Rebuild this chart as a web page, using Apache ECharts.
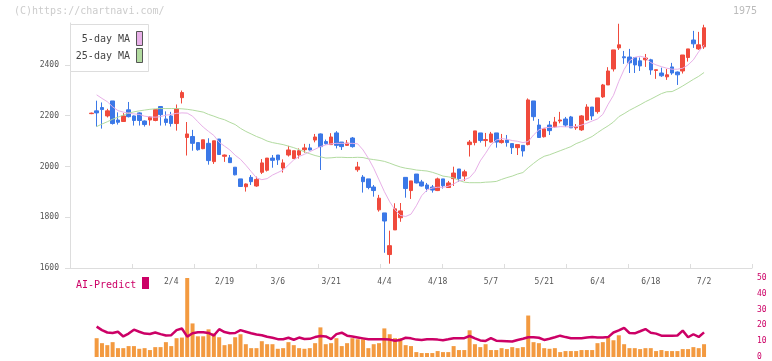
<!DOCTYPE html>
<html><head><meta charset="utf-8">
<script src="https://cdn.jsdelivr.net/npm/echarts@6/dist/echarts.min.js"></script>
<style>html,body{margin:0;padding:0;background:#fff}#c{width:772px;height:361px}</style>
</head><body><div id="c"></div>
<script>
const dates = ['1/14','1/15','1/16','1/17','1/20','1/21','1/22','1/23','1/24','1/27','1/28','1/29','1/30','1/31',
'2/3','2/4','2/5','2/6','2/7','2/10','2/12','2/13','2/14','2/17','2/18','2/19','2/20','2/21','2/25','2/26','2/27','2/28',
'3/3','3/4','3/5','3/6','3/7','3/10','3/11','3/12','3/13','3/14','3/17','3/18','3/19','3/21','3/24','3/25','3/26','3/27','3/28','3/31',
'4/1','4/2','4/3','4/4','4/7','4/8','4/9','4/10','4/11','4/14','4/15','4/16','4/17','4/18','4/21','4/22','4/23','4/24','4/25','4/28','4/30',
'5/1','5/2','5/7','5/8','5/9','5/12','5/13','5/14','5/15','5/16','5/19','5/20','5/21','5/22','5/23','5/26','5/27','5/28','5/29','5/30',
'6/2','6/3','6/4','6/5','6/6','6/9','6/10','6/11','6/12','6/13','6/16','6/17','6/18','6/19','6/20','6/23','6/24','6/25','6/26','6/27','6/30',
'7/1','7/2'];
const tickLabels = ['2/4','2/19','3/6','3/21','4/4','4/18','5/7','5/21','6/4','6/18','7/2'];
const priceTicks = [1600,1800,2000,2200,2400];
// [open, close, low, high]
const candles = [
[2208,2210,2206,2212],[2219,2211,2157,2259],[2232,2224,2149,2252],[2199,2219,2193,2227],[2258,2169,2165,2258],
[2183,2174,2165,2213],[2177,2199,2175,2210],[2223,2196,2193,2254],[2199,2181,2161,2201],[2211,2181,2161,2213],
[2179,2165,2157,2181],[2183,2195,2161,2197],[2181,2224,2178,2226],[2236,2204,2161,2238],[2187,2173,2161,2217],
[2199,2169,2157,2215],[2169,2227,2141,2244],[2271,2291,2248,2299],[2114,2128,2043,2175],[2118,2091,2062,2144],
[2094,2066,2062,2094],[2070,2105,2068,2105],[2091,2023,2007,2111],[2019,2101,2010,2101],[2108,2047,2045,2108],
[2040,2045,2018,2047],[2034,2015,2015,2045],[1997,1967,1965,1997],[1951,1921,1920,1951],[1920,1931,1901,1933],
[1957,1940,1927,1966],[1923,1949,1920,1960],[1977,2014,1970,2029],[1985,2033,1980,2033],[2033,2024,1995,2045],
[2045,2026,2006,2045],[1994,2014,1976,2028],[2045,2065,2039,2081],[2031,2062,2031,2062],[2045,2062,2031,2071],
[2066,2073,2054,2089],[2073,2065,2063,2089],[2104,2116,2095,2128],[2128,2078,1986,2130],[2098,2090,2086,2106],
[2086,2116,2086,2131],[2132,2083,2071,2139],[2096,2078,2065,2096],[2083,2092,2081,2104],[2112,2078,2074,2116],
[1987,1998,1979,2018],[1958,1940,1897,1966],[1951,1917,1910,1951],[1919,1905,1881,1927],[1829,1875,1822,1888],
[1817,1785,1660,1817],[1653,1688,1617,1747],[1750,1833,1750,1855],[1798,1825,1782,1856],[1957,1913,1877,1957],
[1905,1943,1872,1943],[1970,1935,1933,1970],[1939,1923,1921,1947],[1927,1913,1901,1935],[1919,1907,1897,1927],
[1905,1951,1903,1956],[1951,1924,1913,1951],[1917,1935,1915,1943],[1952,1974,1923,1999],[1990,1952,1939,1990],
[1962,1979,1943,1987],[2086,2096,2039,2104],[2094,2140,2083,2140],[2132,2102,2094,2132],[2102,2106,2078,2132],
[2096,2128,2094,2136],[2132,2096,2074,2132],[2094,2102,2090,2128],[2104,2094,2078,2124],[2090,2074,2049,2090],
[2074,2086,2045,2086],[2083,2061,2039,2083],[2086,2262,2083,2268],[2258,2196,2180,2258],[2163,2114,2114,2187],
[2117,2148,2114,2148],[2163,2141,2124,2179],[2156,2175,2152,2195],[2179,2183,2170,2215],[2187,2163,2156,2195],
[2195,2152,2152,2199],[2152,2156,2144,2167],[2144,2199,2140,2202],[2183,2234,2180,2245],[2234,2199,2183,2234],
[2216,2270,2208,2270],[2274,2321,2270,2325],[2321,2376,2321,2391],[2384,2459,2374,2459],[2467,2479,2459,2562],
[2432,2428,2404,2455],[2431,2408,2368,2463],[2429,2400,2368,2429],[2416,2396,2376,2429],[2420,2427,2392,2443],
[2420,2380,2361,2424],[2378,2381,2345,2381],[2368,2357,2353,2389],[2353,2361,2341,2384],[2392,2368,2361,2408],
[2372,2361,2321,2374],[2376,2439,2366,2439],[2429,2463,2413,2463],[2498,2483,2467,2534],[2463,2479,2459,2530],
[2471,2546,2463,2558]];
const ma5 = ['-',2282,2268,2255,2235,2220,2214,2210,2207,2205,2198,2195,2194,2196,2202,2205,2209,2211,2210,2198,
2176,2155,2138,2122,2095,2080,2065,2044,2028,2005,1980,1955,1948,1952,1966,1976,1986,2006,2026,2039,
2048,2058,2068,2078,2085,2089,2091,2091,2091,2091,2089,2065,2032,1993,1947,1901,1861,1829,1807,1803,
1812,1845,1885,1907,1915,1918,1918,1922,1931,1943,1948,1956,1980,2022,2052,2085,2104,2110,2107,2102,
2099,2094,2098,2124,2144,2152,2154,2154,2157,2156,2156,2157,2163,2170,2179,2187,2205,2245,2280,2335,
2382,2416,2430,2434,2429,2409,2400,2393,2387,2383,2383,2387,2400,2420,2452,2479];
const ma25 = ['-',2157,2167,2176,2186,2194,2202,2210,2215,2219,2222,2225,2227,2228,2228,2228,2228,2227,2225,2222,
2218,2214,2205,2198,2190,2184,2174,2165,2150,2138,2128,2118,2110,2100,2094,2090,2086,2080,2074,2066,
2058,2050,2043,2038,2033,2034,2036,2036,2035,2035,2036,2035,2030,2027,2024,2020,2013,2005,1998,1993,
1990,1986,1984,1982,1977,1970,1962,1959,1955,1945,1938,1936,1936,1936,1938,1939,1941,1949,1956,1962,
1970,1976,1995,2012,2028,2040,2046,2054,2062,2070,2078,2090,2098,2108,2118,2133,2147,2160,2175,2196,
2208,2221,2232,2243,2255,2265,2276,2287,2294,2295,2305,2317,2330,2343,2355,2370];
const volume = ['-',11.9,8.75,7.5,9.4,5.6,5.6,6.9,6.9,5.2,5.6,
4.4,6.25,6.25,9.4,6.9,11.9,12.3,50,21.25,13.1,
13.1,17.5,15,12.5,7.5,8.1,12.5,14.4,8.1,5.6,
5.6,10,8.1,8.1,5.2,5.6,9.4,7.5,5.6,5.2,
5.6,8.75,18.75,8.1,8.75,11.9,6.9,8.75,11.9,11.25,
11.25,5.6,8.1,8.75,18.1,14.4,11.9,11.9,7.5,6.9,
3.1,2.5,2.5,2.5,3.75,3.1,3.1,6.9,4.4,4.4,
16.9,8.1,6.25,8.1,4.4,4.4,5.6,5,6.25,5.6,
6.25,26.25,9.4,8.75,5.6,5.2,5.6,3.1,3.75,3.75,
3.75,4.4,4.4,4.4,8.75,9.4,12.5,10.6,13.75,8.1,
5.6,5.6,5,5.6,5.6,3.75,4.4,3.75,3.75,3.75,
5,5,6.25,5.6,8.1];
const aiPredict = ['-',19.2,17.0,15.5,15.2,16.0,13.0,14.8,17.3,16.0,14.8,
14.6,15.5,14.5,13.6,13.8,17.0,18.0,12.9,15.0,15.6,
15.6,15.2,13.6,17.6,15.8,15.0,15.2,17.0,16.0,15.0,
14.2,13.8,12.8,12.2,11.3,11.2,12.2,10.9,12.3,11.4,
11.5,12.6,13.3,13.0,11.3,14.5,15.4,13.5,13.0,12.4,
11.8,11.2,11.3,11.2,11.2,11.0,10.3,10.8,12.2,11.8,
11.0,10.8,11.2,11.3,11.0,10.6,11.2,11.9,11.8,11.9,
13.3,11.8,10.5,10.2,11.9,10.3,10.2,10.0,9.8,10.8,
11.6,12.5,12.5,12.2,10.8,11.6,12.5,13.5,12.6,11.9,
11.8,11.9,12.4,12.7,12.3,12.3,12.6,15.5,16.8,18.5,
15.2,15.0,16.3,17.7,15.4,14.8,13.5,13.5,13.5,13.6,
16.7,12.5,14.4,12.7,15.6];

const PAD_L = 4, PAD_R = 9;
const cats = Array.from({length:PAD_L},(_, i)=>'s'+i).concat(dates, Array.from({length:PAD_R},(_, i)=>'e'+i));
const pad = a => Array(PAD_L).fill('-').concat(a, Array(PAD_R).fill('-'));
const padC = a => Array(PAD_L).fill(['-','-','-','-']).concat(a, Array(PAD_R).fill(['-','-','-','-']));
const labelSet = new Set(tickLabels);
const MONO = '"DejaVu Sans Mono", "Liberation Mono", monospace';
const RED = '#f04a3c', BLUE = '#3b78e7', PINK = '#e8b0e8', GREEN = '#b2dba0', CRIMSON = '#cc0066', ORANGE = '#f39a40';

const chart = echarts.init(document.getElementById('c'), null, {renderer:'canvas'});
chart.setOption({
  animation: false,
  backgroundColor: '#fff',
  grid: [
    {left:70, right:20, top:23, bottom:93},
    {left:70, right:20, top:278, bottom:3}
  ],
  xAxis: [
    {type:'category', gridIndex:0, data:cats, boundaryGap:false, position:'bottom',
     axisLine:{show:false}, axisTick:{show:false}, splitLine:{show:false},
     axisLabel:{interval:(i, v)=>labelSet.has(v), fontSize:8, color:'#555', margin:10, fontFamily:MONO}},
    {type:'value', gridIndex:0, min:0, max:11, interval:1, position:'bottom',
     axisLine:{show:true, lineStyle:{color:'#dddddd', width:1}},
     axisTick:{show:true, inside:true, length:4, lineStyle:{color:'#dddddd'}},
     axisLabel:{show:false}, splitLine:{show:false}},
    {type:'category', gridIndex:1, data:cats, boundaryGap:false, show:false}
  ],
  yAxis: [
    {type:'value', gridIndex:0, min:1600, max:2565, position:'left', scale:true,
     axisLine:{show:true, lineStyle:{color:'#dddddd'}},
     axisTick:{show:true, length:5, customValues:priceTicks, lineStyle:{color:'#dddddd'}},
     axisLabel:{customValues:priceTicks, formatter:v=>String(v), fontSize:8, color:'#555', margin:11, fontFamily:MONO},
     splitLine:{show:false}},
    {type:'value', gridIndex:1, min:0, max:50, interval:10, position:'right',
     axisLine:{show:false}, axisTick:{show:false}, splitLine:{show:false},
     axisLabel:{fontSize:8, color:CRIMSON, margin:5, fontFamily:MONO}}
  ],
  series: [
    {name:'25-day MA', type:'line', xAxisIndex:0, yAxisIndex:0, data:pad(ma25), showSymbol:false, silent:true,
     lineStyle:{color:GREEN, width:1}},
    {name:'5-day MA', type:'line', xAxisIndex:0, yAxisIndex:0, data:pad(ma5), showSymbol:false, silent:true,
     lineStyle:{color:PINK, width:1}},
    {name:'price', type:'candlestick', xAxisIndex:0, yAxisIndex:0, data:padC(candles), barWidth:4,
     itemStyle:{color:RED, color0:BLUE, borderColor:RED, borderColor0:BLUE, borderWidth:1}},
    {name:'volume', type:'bar', xAxisIndex:2, yAxisIndex:1, data:pad(volume), barWidth:4,
     itemStyle:{color:ORANGE}},
    {name:'AI-Predict', type:'line', xAxisIndex:2, yAxisIndex:1, data:pad(aiPredict), showSymbol:false,
     lineStyle:{color:CRIMSON, width:2.5}}
  ],
  graphic: [
    {type:'text', left:14, top:6, style:{text:'(C)https://chartnavi.com/', fill:'#cccccc', font:'10px '+MONO}},
    {type:'text', right:15, top:6, style:{text:'1975', fill:'#bbbbbb', font:'10px '+MONO}},
    {type:'rect', shape:{x:70.5, y:24.5, width:78, height:47}, style:{fill:'#fff', stroke:'#dddddd', lineWidth:1}, z:100},
    {type:'text', x:130, y:39, style:{text:'5-day MA', fill:'#444', font:'10px '+MONO, align:'right', verticalAlign:'middle'}, z:101},
    {type:'rect', shape:{x:136.5, y:31.5, width:6, height:14}, style:{fill:PINK, stroke:'#555', lineWidth:1}, z:101},
    {type:'text', x:130, y:56, style:{text:'25-day MA', fill:'#444', font:'10px '+MONO, align:'right', verticalAlign:'middle'}, z:101},
    {type:'rect', shape:{x:136.5, y:48.5, width:6, height:14}, style:{fill:GREEN, stroke:'#555', lineWidth:1}, z:101},
    {type:'text', x:76, y:285.5, style:{text:'AI-Predict', fill:CRIMSON, font:'10px '+MONO, verticalAlign:'middle'}, z:101},
    {type:'rect', shape:{x:142, y:277, width:7, height:12}, style:{fill:CRIMSON}, z:101}
  ]
});
</script>
</body></html>
